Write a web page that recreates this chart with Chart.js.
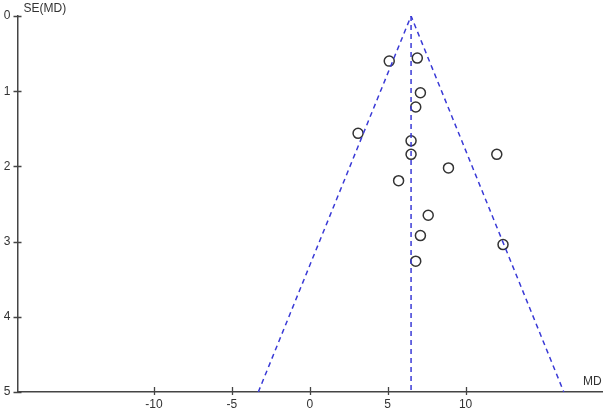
<!DOCTYPE html>
<html>
<head>
<meta charset="utf-8">
<script src="https://cdn.jsdelivr.net/npm/chart.js@4.4.1/dist/chart.umd.min.js"></script>
<style>
  html, body { margin: 0; padding: 0; background: #fff; }
  #wrap { width: 616px; height: 413px; position: relative; }
</style>
</head>
<body>
<div id="wrap"><canvas id="funnel"></canvas></div>
<script>
// study estimates (mean difference) and their standard errors
const mdValues = [5.1, 6.9, 7.1, 6.8, 3.1, 6.5, 6.5, 12.0, 8.9, 5.7, 7.6, 7.1, 12.4, 6.8];
const seValues = [0.60, 0.56, 1.02, 1.21, 1.56, 1.66, 1.84, 1.84, 2.02, 2.19, 2.65, 2.92, 3.04, 3.26];

// pooled estimate and 95% funnel limits at SE = 5
const pooledMD = 6.5;
const funnelX = [-3.3, 6.5, 16.3];
const funnelY = [5, 0, 5];
const centerX = [6.5, 6.5];
const centerY = [0, 5];

const xTicks = [-10, -5, 0, 5, 10];
const yTicks = [0, 1, 2, 3, 4, 5];

const AXIS = '#444';
const BLUE = '#3a3ad6';
const FONT = '12px "Liberation Sans", Arial, sans-serif';

const crossTicks = {
    id: 'crossTicks',
    afterDraw(chart) {
        const ctx = chart.ctx;
        const xs = chart.scales.x, ys = chart.scales.y;
        const area = chart.chartArea;
        ctx.save();
        ctx.strokeStyle = AXIS;
        ctx.lineWidth = 1.3;
        ctx.beginPath();
        xs.ticks.forEach(t => {
            const px = Math.round(xs.getPixelForValue(t.value)) + 0.5;
            ctx.moveTo(px, area.bottom - 5);
            ctx.lineTo(px, area.bottom + 3);
        });
        ys.ticks.forEach(t => {
            const py = Math.round(ys.getPixelForValue(t.value)) + 0.5;
            ctx.moveTo(area.left - 4, py);
            ctx.lineTo(area.left + 4, py);
        });
        ctx.stroke();

        ctx.fillStyle = '#333';
        ctx.font = FONT;
        ctx.textBaseline = 'middle';
        ctx.textAlign = 'left';
        ctx.fillText('SE(MD)', area.left + 6, area.top - 7);
        ctx.fillText('MD', area.right - 19, area.bottom - 10);
        ctx.restore();
    }
};

const scatterData = mdValues.map((v, i) => ({ x: v, y: seValues[i] }));

new Chart(document.getElementById('funnel'), {
    type: 'scatter',
    data: {
        datasets: [
            {
                label: 'Funnel',
                type: 'line',
                data: funnelX.map((v, i) => ({ x: v, y: funnelY[i] })),
                borderColor: BLUE,
                borderWidth: 1.5,
                borderDash: [5, 4],
                pointRadius: 0,
                fill: false,
                tension: 0
            },
            {
                label: 'Pooled MD',
                type: 'line',
                data: centerX.map((v, i) => ({ x: v, y: centerY[i] })),
                borderColor: BLUE,
                borderWidth: 1.5,
                borderDash: [5, 4],
                pointRadius: 0,
                fill: false
            },
            {
                label: 'Studies',
                data: scatterData,
                pointRadius: 5,
                pointBorderWidth: 1.5,
                pointBorderColor: '#333',
                pointBackgroundColor: 'rgba(0,0,0,0)'
            }
        ]
    },
    plugins: [crossTicks],
    options: {
        responsive: true,
        maintainAspectRatio: false,
        animation: false,
        layout: { padding: { top: 16, right: 14, left: 0, bottom: 0 } },
        plugins: {
            legend: { display: false },
            tooltip: { enabled: false }
        },
        scales: {
            x: {
                type: 'linear',
                min: -18.75,
                max: 18.75,
                afterBuildTicks: s => { s.ticks = xTicks.map(v => ({ value: v })); },
                afterFit: s => { s.height = 21; },
                grid: { display: false, drawTicks: false },
                border: { display: true, color: AXIS, width: 1.5 },
                ticks: { color: '#333', font: { family: '"Liberation Sans", Arial, sans-serif', size: 12 }, padding: 5, maxRotation: 0 }
            },
            y: {
                type: 'linear',
                reverse: true,
                min: 0,
                max: 5,
                afterBuildTicks: s => { s.ticks = yTicks.map(v => ({ value: v })); },
                afterFit: s => { s.width = 17.5; },
                grid: { display: false, drawTicks: false },
                border: { display: true, color: AXIS, width: 1.5 },
                ticks: { color: '#333', font: { family: '"Liberation Sans", Arial, sans-serif', size: 12 }, padding: 7 }
            }
        }
    }
});
</script>
</body>
</html>
